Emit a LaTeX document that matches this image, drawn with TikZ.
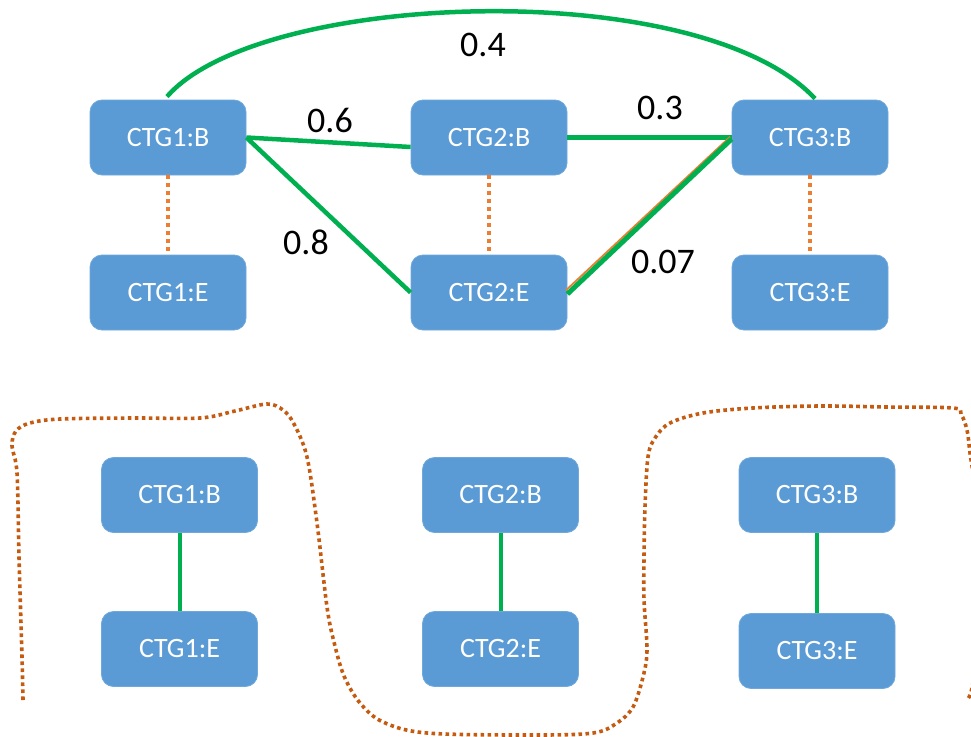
\documentclass[tikz,border=0pt]{standalone}
\usepackage{fontspec}
\setmainfont{Carlito}
\usetikzlibrary{calc}
\definecolor{ctgblue}{HTML}{5B9BD5}
\definecolor{ctgedge}{HTML}{6FA8DC}
\definecolor{linkgreen}{HTML}{00B050}
\definecolor{pairorange}{HTML}{ED7D31}
\definecolor{groupbrown}{HTML}{C55A11}
\tikzset{
  ctg/.style={rectangle, rounded corners=12pt, fill=ctgblue, draw=ctgedge,
    line width=0.8pt, minimum width=156pt, minimum height=75pt, inner sep=0pt,
    text=white, font=\fontsize{28}{32}\selectfont},
  weight/.style={font=\fontsize{36}{40}\selectfont, text=black},
  link/.style={draw=linkgreen, line width=4.5pt},
  pairing/.style={draw=pairorange, line width=4.5pt, line cap=butt,
    dash pattern=on 4pt off 4pt},
  group/.style={draw=groupbrown, line width=3.6pt, line cap=butt,
    dash pattern=on 3.6pt off 3.4pt}
}
\begin{document}
\begin{tikzpicture}[x=1pt, y=-1pt]
\useasboundingbox (0,0) rectangle (971,736);

% ---- scaffold graph ----
\node[ctg] (b1) at (168,137.5) {CTG1:B};
\node[ctg] (b2) at (489,137.5) {CTG2:B};
\node[ctg] (b3) at (810,137.5) {CTG3:B};
\node[ctg] (e1) at (168,292.5) {CTG1:E};
\node[ctg] (e2) at (489,292.5) {CTG2:E};
\node[ctg] (e3) at (810,292.5) {CTG3:E};

% contig ends belonging together
\draw[pairing] (b1.south) -- (e1.north);
\draw[pairing] (b2.south) -- (e2.north);
\draw[pairing] (b3.south) -- (e3.north);

% weighted links
\draw[link] (b1.east) -- ($(b2.west)+(0,9.5)$);
\draw[link] (b1.east) -- (e2.west);
\draw[link] (b2.east) -- (b3.west);
\draw[draw=pairorange, line width=1.8pt] ($(e2.east)+(-1.5,-2.2)$) -- ($(b3.west)+(-1.5,-0.7)$);
\draw[link, line width=5pt] ($(e2.east)+(0,1.5)$) -- ($(b3.west)+(0,1.5)$);
\draw[link] ($(b1.north)+(-1,-3)$) .. controls (260,-10) and (700,-25) .. ($(b3.north)+(5,-1)$);

\node[weight] (w06) at (330,120) {0.6};
\node[weight] (w03) at (660,108) {0.3};
\node[weight] (w08) at (306,242) {0.8};
\node[weight] (w007) at (663,262) {0.07};
\node[weight] (w04) at (483,45) {0.4};

% ---- resulting scaffolds ----
\node[ctg] (B1) at (179.5,495) {CTG1:B};
\node[ctg] (E1) at (179.5,649) {CTG1:E};
\node[ctg] (B2) at (500.5,495) {CTG2:B};
\node[ctg] (E2) at (500.5,649) {CTG2:E};
\node[ctg] (B3) at (817,495) {CTG3:B};
\node[ctg] (E3) at (817,651) {CTG3:E};

\draw[link, line width=4pt] (B1.south) -- (E1.north);
\draw[link, line width=4pt] (B2.south) -- (E2.north);
\draw[link, line width=4pt] (B3.south) -- (E3.north);

% hand-drawn grouping outline
\begin{scope}
\clip (0,0) rectangle (971,736);
\draw[group] plot[smooth, tension=0.55] coordinates {
  (23,700) (22,657) (19,557) (17,473) (12,446) (16,431) (30,423) (60,419)
  (133,418) (200,418) (235,411) (267,404) (283,410) (294,424) (307,457)
  (317,523) (327,607) (334,642) (344,676) (360,703) (383,722) (427,733)
  (533,735) (593,733) (617,723) (633,707) (643,677) (647,650) (644,600)
  (644,557) (645,507) (648,457) (655,438) (670,423) (703,413) (753,408)
  (820,406) (887,407) (953,408) (961,414) (967,430) (970,453) (976,500)
  (980,600) (973,682) (967,700)};
\end{scope}
\end{tikzpicture}
\end{document}
